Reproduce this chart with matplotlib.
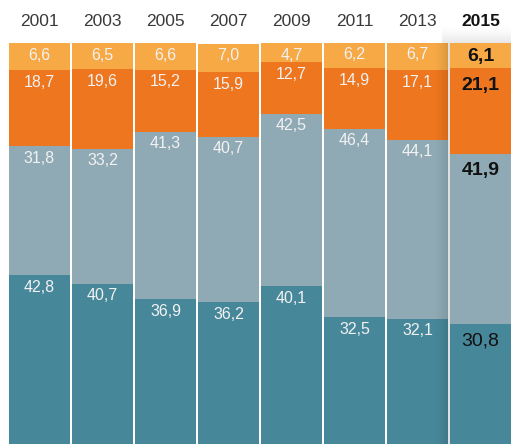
import matplotlib
matplotlib.use('Agg')
import matplotlib.pyplot as plt
from matplotlib.patches import Rectangle
import numpy as np

# データ（下から順に積み上げ）
years = ['2001', '2003', '2005', '2007', '2009', '2011', '2013', '2015']
teal_vals = [42.8, 40.7, 36.9, 36.2, 40.1, 32.5, 32.1, 30.8]
grey_vals = [31.8, 33.2, 41.3, 40.7, 42.5, 46.4, 44.1, 41.9]
orange_vals = [18.7, 19.6, 15.2, 15.9, 12.7, 14.9, 17.1, 21.1]
light_vals = [6.6, 6.5, 6.6, 7.0, 4.7, 6.2, 6.7, 6.1]

series = [teal_vals, grey_vals, orange_vals, light_vals]
colors = ['#47879a', '#8faab5', '#ee761e', '#f6a945']

plt.rcParams['font.family'] = ['Liberation Sans', 'DejaVu Sans']

W, H = 511, 444
fig = plt.figure(figsize=(W / 100, H / 100), dpi=100)
fig.patch.set_facecolor('white')
# 上端 y=43px、100単位 = 406px
ax = fig.add_axes([0, 1 - (43 + 406) / H, 1, 406 / H])
left = -0.5 - 8 / 63
ax.set_xlim(left, left + W / 63)
ax.set_ylim(0, 100)
ax.axis('off')

x = np.arange(len(years))
bottom = np.zeros(len(years))
hl = len(years) - 1
for vals, col in zip(series, colors):
    vals = np.array(vals)
    ax.bar(x, vals, bottom=bottom, width=0.968, color=col, linewidth=0, zorder=2)
    tops = bottom + vals
    for i, (v, t) in enumerate(zip(vals, tops)):
        lab = f'{v:.1f}'.replace('.', ',')
        if i == hl:
            bold = col != '#47879a'
            off = -13 if col == '#f6a945' else -17
            ax.annotate(lab, (i, t), xytext=(0, off), textcoords='offset pixels',
                        ha='center', va='center', fontsize=14,
                        fontweight='bold' if bold else 'normal', color='#111111', zorder=5)
        else:
            ax.annotate(lab, (i, t), xytext=(0, -12), textcoords='offset pixels',
                        ha='center', va='center', fontsize=11.5, color='#f2f2f2', zorder=5)
    bottom = tops

# 年ラベル
for i, y in enumerate(years):
    ax.annotate(y, (i, 100), xytext=(0, 21), textcoords='offset pixels',
                ha='center', va='center', fontsize=12.5, annotation_clip=False,
                color='#111111' if i == hl else '#3a3a3a',
                fontweight='bold' if i == hl else 'normal')

# 最終列の影
px = 1 / 63
bar_left = hl - 0.484
for k in range(16):
    a = 0.13 * (1 - k / 16) ** 1.6
    ax.add_patch(Rectangle((bar_left - (k + 1) * px, 0), px, 100, color='black',
                           alpha=a, lw=0, zorder=3))
upy = 1 / 4.06
for k in range(18):
    a = 0.09 * (1 - k / 18) ** 1.6
    ax.add_patch(Rectangle((bar_left - 8 * px, 100 + k * upy), 3, upy, color='black',
                           alpha=a, lw=0, zorder=1, clip_on=False))

fig.savefig('out.png', dpi=100, facecolor='white')
